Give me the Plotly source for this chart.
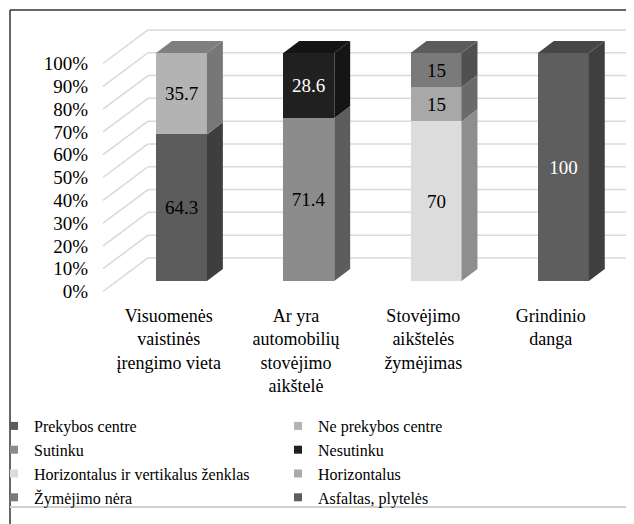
import plotly.graph_objects as go

# ---------------- data ----------------
categories = [
    "Visuomenės<br>vaistinės<br>įrengimo vieta",
    "Ar yra<br>automobilių<br>stovėjimo<br>aikštelė",
    "Stovėjimo<br>aikštelės<br>žymėjimas",
    "Grindinio<br>danga",
]
series_names = [
    "Prekybos centre", "Ne prekybos centre",
    "Sutinku", "Nesutinku",
    "Horizontalus ir vertikalus ženklas", "Horizontalus",
    "Žymėjimo nėra", "Asfaltas, plytelės",
]
series_category = [0, 0, 1, 1, 2, 2, 2, 3]
series_values = [64.3, 35.7, 71.4, 28.6, 70, 15, 15, 100]
y_ticks = [0, 10, 20, 30, 40, 50, 60, 70, 80, 90, 100]
y_tick_labels = [f"{v}%" for v in y_ticks]

# ---------------- styles ----------------
front_colors = ["#5c5c5c", "#b3b3b3", "#8c8c8c", "#202020",
                "#dcdcdc", "#a8a8a8", "#7a7a7a", "#5e5e5e"]
side_colors = ["#3e3e3e", "#777777", "#5d5d5d", "#151515",
               "#8e8e8e", "#6a6a6a", "#505050", "#3f3f3f"]
top_colors = ["#444444", "#7f7f7f", "#666666", "#141414",
              "#a0a0a0", "#777777", "#5c5c5c", "#474747"]
label_colors = ["black", "black", "black", "white",
                "black", "black", "black", "white"]
FONT = "Times New Roman, Liberation Serif, DejaVu Serif, serif"

# geometry: page offset (body margin) and pixel layout in screen coordinates
OFF = 8
W, H = 634 - OFF, 524 - OFF
PL, PT, PB = 95, 20, 298            # plot area left/top/bottom in screen px
L, R, T, B = PL - OFF, 0, PT - OFF, H - (PB - OFF)
pw, ph = W - L - R, H - T - B
x_px0, x_scale = 181.5, 127.3       # screen px of category 0, px per category
y_px0, y_scale = 281.0, 2.28        # screen px of value 0, px per unit
x_range = [-(x_px0 - PL) / x_scale, (634 - x_px0) / x_scale]
y_range = [-(PB - y_px0) / y_scale, (y_px0 - PT) / y_scale]

bw = 0.4      # bar front width (category units)
ddx = 0.125   # depth x offset
ddy = 5.3     # depth y offset
back_dy = 10.1
label_dy = -4.6
back_x0 = (148 - x_px0) / x_scale
diag_x0 = (103 - x_px0) / x_scale


def px2paper_x(px):
    return (px - PL) / pw


def px2paper_y(py):
    return (PB - py) / ph


fig = go.Figure()

# front faces
for i, name in enumerate(series_names):
    c = series_category[i]
    v = series_values[i]
    fig.add_trace(go.Bar(
        x=[c], y=[v], name=name, width=bw, showlegend=False,
        marker=dict(color=front_colors[i], line=dict(width=0)),
        text=[f"{v:g}"], textposition="inside", insidetextanchor="middle",
        textangle=0, constraintext="none",
        textfont=dict(family=FONT, size=19, color=label_colors[i]),
        hoverinfo="skip",
    ))

# side and top faces (computed from cumulative values)
cum = {}
top_of_cat = {}
for i in range(len(series_names)):
    c = series_category[i]
    b = cum.get(c, 0.0)
    t = b + series_values[i]
    cum[c] = t
    top_of_cat[c] = i
    xr = c + bw / 2
    fig.add_trace(go.Scatter(
        x=[xr, xr + ddx, xr + ddx, xr, xr],
        y=[b, b + ddy, t + ddy, t, b],
        fill="toself", fillcolor=side_colors[i], mode="lines",
        line=dict(width=0, color=side_colors[i]),
        showlegend=False, hoverinfo="skip",
    ))
for c, i in top_of_cat.items():
    t = cum[c]
    xl, xr = c - bw / 2, c + bw / 2
    fig.add_trace(go.Scatter(
        x=[xl, xl + ddx, xr + ddx, xr, xl],
        y=[t, t + ddy, t + ddy, t, t],
        fill="toself", fillcolor=top_colors[i], mode="lines",
        line=dict(width=0, color=top_colors[i]),
        showlegend=False, hoverinfo="skip",
    ))

# legend entries (small square symbols)
for i, name in enumerate(series_names):
    fig.add_trace(go.Scatter(
        x=[None], y=[None], mode="markers", name=name,
        marker=dict(symbol="square", size=8, color=front_colors[i]),
        showlegend=True, hoverinfo="skip",
    ))

shapes = []
# back wall gridlines and side-wall diagonals
for v in y_ticks:
    shapes.append(dict(type="line", xref="x", yref="y", layer="below",
                       x0=back_x0, x1=x_range[1], y0=v + back_dy, y1=v + back_dy,
                       line=dict(color="#d9d9d9", width=1.5)))
    shapes.append(dict(type="line", xref="x", yref="y", layer="below",
                       x0=diag_x0, x1=back_x0, y0=v + label_dy, y1=v + back_dy,
                       line=dict(color="#d9d9d9", width=1.5)))
# outer frame
shapes.append(dict(type="line", xref="paper", yref="paper",
                   x0=px2paper_x(10), x1=px2paper_x(10), y0=px2paper_y(10), y1=px2paper_y(530),
                   line=dict(color="#333333", width=1.5)))
shapes.append(dict(type="line", xref="paper", yref="paper",
                   x0=px2paper_x(10), x1=px2paper_x(640), y0=px2paper_y(10), y1=px2paper_y(10),
                   line=dict(color="#333333", width=1.5)))
shapes.append(dict(type="line", xref="paper", yref="paper",
                   x0=px2paper_x(10), x1=px2paper_x(640), y0=px2paper_y(507), y1=px2paper_y(507),
                   line=dict(color="#d0d0d0", width=2)))

fig.update_layout(
    width=W, height=H,
    margin=dict(l=L, r=R, t=T, b=B, autoexpand=False),
    paper_bgcolor="white", plot_bgcolor="white",
    barmode="stack", bargap=0,
    font=dict(family=FONT, size=19, color="black"),
    showlegend=True,
    legend=dict(
        orientation="h", xanchor="left", yanchor="top",
        x=px2paper_x(-6), y=px2paper_y(409),
        entrywidth=239, entrywidthmode="pixels",
        font=dict(family=FONT, size=16, color="black"),
        bgcolor="rgba(0,0,0,0)", traceorder="normal",
    ),
    xaxis=dict(range=x_range, tickmode="array",
               tickvals=[i - 0.1 for i in range(len(categories))],
               ticktext=categories, showgrid=False, zeroline=False,
               showline=False, ticks="", ticklabelstandoff=5,
               tickfont=dict(family=FONT, size=18)),
    yaxis=dict(range=y_range, tickmode="array",
               tickvals=[v + label_dy for v in y_ticks], ticktext=y_tick_labels,
               showgrid=False, zeroline=False, showline=False, ticks="",
               ticklabelstandoff=6,
               tickfont=dict(family=FONT, size=19)),
    shapes=shapes,
)

fig.write_html("out.html")
